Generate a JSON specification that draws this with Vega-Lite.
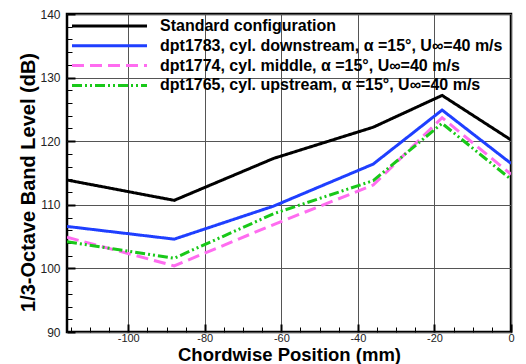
{
  "$schema": "https://vega.github.io/schema/vega-lite/v6.json",
  "width": 444,
  "height": 318,
  "autosize": {"type": "none"},
  "padding": {"left": 67, "top": 14, "right": 15, "bottom": 32},
  "background": "white",
  "config": {
    "font": "Liberation Sans",
    "view": {"stroke": "black", "strokeWidth": 2.5},
    "legend": {
      "orient": "none",
      "legendX": 3.5,
      "legendY": 4,
      "title": null,
      "padding": 0,
      "symbolType": "stroke",
      "symbolSize": 5625,
      "symbolStrokeWidth": 3,
      "clipHeight": 16,
      "rowPadding": 3.8,
      "labelOffset": 11.5,
      "labelFontSize": 16,
      "labelFontWeight": "bold",
      "labelColor": "black",
      "labelLimit": 600,
      "labelFont": "Liberation Sans"
    }
  },
  "data": {
    "values": [
      {"series": "Standard configuration", "x": -116, "y": 113.9},
      {"series": "Standard configuration", "x": -88, "y": 110.7},
      {"series": "Standard configuration", "x": -62, "y": 117.3},
      {"series": "Standard configuration", "x": -36, "y": 122.2},
      {"series": "Standard configuration", "x": -18, "y": 127.2},
      {"series": "Standard configuration", "x": 0, "y": 120.2},
      {"series": "dpt1783, cyl. downstream, α =15°, U∞=40 m/s", "x": -116, "y": 106.6},
      {"series": "dpt1783, cyl. downstream, α =15°, U∞=40 m/s", "x": -88, "y": 104.6},
      {"series": "dpt1783, cyl. downstream, α =15°, U∞=40 m/s", "x": -62, "y": 109.8},
      {"series": "dpt1783, cyl. downstream, α =15°, U∞=40 m/s", "x": -36, "y": 116.4},
      {"series": "dpt1783, cyl. downstream, α =15°, U∞=40 m/s", "x": -18, "y": 124.9},
      {"series": "dpt1783, cyl. downstream, α =15°, U∞=40 m/s", "x": 0, "y": 116.5},
      {"series": "dpt1774, cyl. middle, α =15°, U∞=40 m/s", "x": -116, "y": 104.9},
      {"series": "dpt1774, cyl. middle, α =15°, U∞=40 m/s", "x": -88, "y": 100.4},
      {"series": "dpt1774, cyl. middle, α =15°, U∞=40 m/s", "x": -62, "y": 106.9},
      {"series": "dpt1774, cyl. middle, α =15°, U∞=40 m/s", "x": -36, "y": 113.1},
      {"series": "dpt1774, cyl. middle, α =15°, U∞=40 m/s", "x": -18, "y": 123.7},
      {"series": "dpt1774, cyl. middle, α =15°, U∞=40 m/s", "x": 0, "y": 114.8},
      {"series": "dpt1765, cyl. upstream,  α =15°, U∞=40 m/s", "x": -116, "y": 104.2},
      {"series": "dpt1765, cyl. upstream,  α =15°, U∞=40 m/s", "x": -88, "y": 101.6},
      {"series": "dpt1765, cyl. upstream,  α =15°, U∞=40 m/s", "x": -62, "y": 108.6},
      {"series": "dpt1765, cyl. upstream,  α =15°, U∞=40 m/s", "x": -36, "y": 113.8},
      {"series": "dpt1765, cyl. upstream,  α =15°, U∞=40 m/s", "x": -18, "y": 122.8},
      {"series": "dpt1765, cyl. upstream,  α =15°, U∞=40 m/s", "x": 0, "y": 114.0}
    ]
  },
  "mark": {"type": "line", "strokeWidth": 3, "clip": true},
  "encoding": {
    "x": {
      "field": "x",
      "type": "quantitative",
      "scale": {"domain": [-116, 0], "nice": false, "zero": false},
      "axis": {
        "title": "Chordwise Position (mm)",
        "titleFont": "Liberation Sans",
        "titleFontSize": 18.5,
        "titleFontWeight": "bold",
        "titleColor": "black",
        "titleBaseline": "alphabetic",
        "titleY": 28.5,
        "values": [-115, -110, -105, -100, -95, -90, -85, -80, -75, -70, -65, -60, -55, -50, -45, -40, -35, -30, -25, -20, -15, -10, -5, 0],
        "labelExpr": "datum.value % 20 === 0 ? '' + datum.value : ''",
        "labelOverlap": false,
        "labelFlush": false,
        "labelFontSize": 11,
        "labelColor": "#222",
        "labelPadding": 8.5,
        "domain": false,
        "tickColor": "black",
        "tickWidth": {"condition": {"test": "datum.value % 20 === 0", "value": 2}, "value": 1},
        "tickSize": {"condition": {"test": "datum.value % 20 === 0", "value": -8}, "value": -5},
        "grid": true,
        "gridColor": "#555",
        "gridWidth": 1,
        "gridOpacity": {"condition": {"test": "datum.value % 20 === 0", "value": 1}, "value": 0}
      }
    },
    "y": {
      "field": "y",
      "type": "quantitative",
      "scale": {"domain": [90, 140], "nice": false, "zero": false},
      "axis": {
        "title": "1/3-Octave Band Level (dB)",
        "titleFont": "Liberation Sans",
        "titleFontSize": 20,
        "titleFontWeight": "bold",
        "titleColor": "black",
        "titleAngle": 270,
        "titleBaseline": "middle",
        "titleAlign": "center",
        "titleX": -39,
        "titleY": 168,
        "values": [90, 92, 94, 96, 98, 100, 102, 104, 106, 108, 110, 112, 114, 116, 118, 120, 122, 124, 126, 128, 130, 132, 134, 136, 138, 140],
        "labelExpr": "datum.value % 10 === 0 ? '' + datum.value : ''",
        "labelOverlap": false,
        "labelFlush": false,
        "labelFontSize": 12,
        "labelColor": "#222",
        "labelPadding": 15,
        "domain": false,
        "tickColor": "black",
        "tickWidth": {"condition": {"test": "datum.value % 10 === 0", "value": 2}, "value": 1},
        "tickSize": {"condition": {"test": "datum.value % 10 === 0", "value": -8}, "value": -5},
        "grid": true,
        "gridColor": "#555",
        "gridWidth": 1,
        "gridOpacity": {"condition": {"test": "datum.value % 10 === 0", "value": 1}, "value": 0}
      }
    },
    "color": {
      "field": "series",
      "type": "nominal",
      "scale": {
        "domain": ["Standard configuration", "dpt1783, cyl. downstream, α =15°, U∞=40 m/s", "dpt1774, cyl. middle, α =15°, U∞=40 m/s", "dpt1765, cyl. upstream,  α =15°, U∞=40 m/s"],
        "range": ["#000000", "#1f3fff", "#ff6cf0", "#19c819"]
      }
    },
    "strokeDash": {
      "field": "series",
      "type": "nominal",
      "scale": {
        "domain": ["Standard configuration", "dpt1783, cyl. downstream, α =15°, U∞=40 m/s", "dpt1774, cyl. middle, α =15°, U∞=40 m/s", "dpt1765, cyl. upstream,  α =15°, U∞=40 m/s"],
        "range": [[1, 0], [1, 0], [12, 6], [10, 3, 2, 3, 2, 3]]
      }
    }
  }
}
